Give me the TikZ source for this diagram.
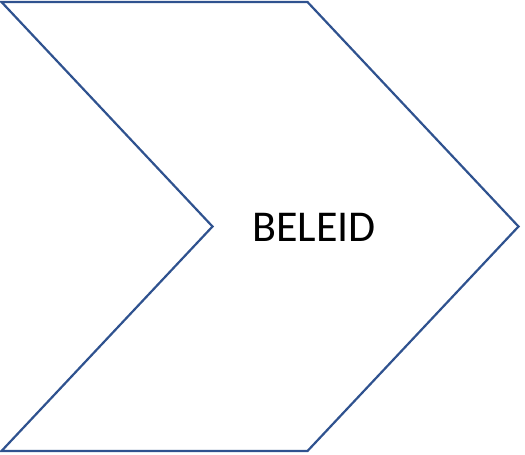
\documentclass[tikz,border=0pt]{standalone}
\usepackage{fontspec}
\setmainfont{Carlito}
\usetikzlibrary{positioning}
\definecolor{edgeBlue}{HTML}{2F528F}

\begin{document}
\begin{tikzpicture}[x=1pt, y=-1pt,
  chev/.style={draw=edgeBlue, line width=2.2pt, line join=miter, fill=white},
  lbl/.style={font=\fontsize{44}{48}\selectfont, text=black, inner sep=0pt}
]
  \useasboundingbox (0,0) rectangle (525,455);
  % chevron outline
  \draw[chev] (1.5,2) -- (307.5,2) -- (518.5,226.5) -- (307.5,451) -- (1.5,451) -- (212.5,226.5) -- cycle;
  % centre text
  \node[lbl] (beleid) at (314,227) {BELEID};
\end{tikzpicture}
\end{document}
